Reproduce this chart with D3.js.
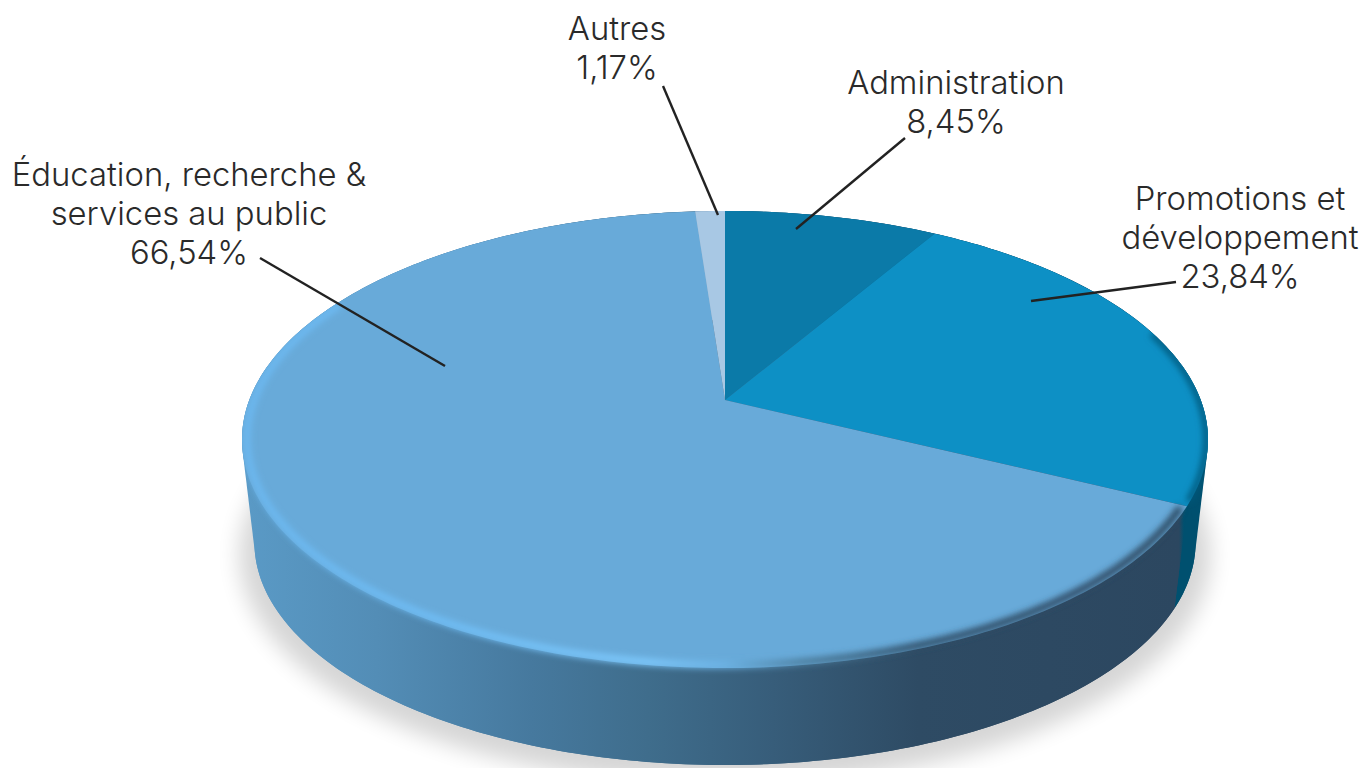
<!DOCTYPE html>
<html>
<head>
  <meta charset="UTF-8">
  <style>
    html, body { margin: 0; background: #fff; overflow: hidden; }
    svg { display: block; }
    text { font-family: "Inter", sans-serif; font-weight: 300; font-size: 32.8px; fill: #2a2a2a; }
  </style>
</head>
<body>
<script src="https://d3js.org/d3.v7.min.js"></script>
<script>
var categories = ["Administration", "Promotions et développement", "Éducation, recherche & services au public", "Autres"];
var shares = [8.45, 23.84, 66.54, 1.17];
var shareLabels = ["8,45%", "23,84%", "66,54%", "1,17%"];
var topColors = ["#0b7aa8", "#0d90c5", "#68aad9", "#a8c8e4"];
var wallColors = ["#0b5f82", "#00506f", "url(#wallGrad)", "#8aa8c4"];

var labelLines = [
  ["Administration", "8,45%"],
  ["Promotions et", "développement", "23,84%"],
  ["Éducation, recherche &", "services au public", "66,54%"],
  ["Autres", "1,17%"]
];
var labelX = [956, 1240, 189, 617];
var labelY = [94, 210, 186, 40];
var leaders = [
  [[905, 138], [796, 229]],
  [[1176, 282], [1031, 301]],
  [[260, 258], [445, 366]],
  [[663, 86], [718, 215]]
];

var width = 1365, height = 768;

// perspective disc: apex of the pie is not the centre of the ellipse
var cx = 725, cy = 400, Rx = 475.7, Ry = 221.7, k = 0.173;
var wallDrop = 105, wallScale = 0.975;

function project(angle, r, drop) {
  var u = r * Math.sin(angle), v = -r * Math.cos(angle);
  var w = 1 - k * v;
  return [cx + Rx * u / w, cy + drop + Ry * v / w];
}
function rim(a0, a1, r, drop) {
  var n = Math.max(2, Math.ceil((a1 - a0) * 60));
  return d3.range(n + 1).map(function(i) {
    return project(a0 + (a1 - a0) * i / n, r, drop);
  });
}

var line = d3.line();
var pie = d3.pie().sort(null);
var arcs = pie(shares);

var svg = d3.select("body").append("svg").attr("width", width).attr("height", height);
var defs = svg.append("defs");

function addGradient(id, stops) {
  var g = defs.append("linearGradient").attr("id", id)
    .attr("gradientUnits", "userSpaceOnUse")
    .attr("x1", 242).attr("x2", 1208).attr("y1", 0).attr("y2", 0);
  stops.forEach(function(s) {
    g.append("stop").attr("offset", s[0]).attr("stop-color", s[1]);
  });
}
addGradient("wallGrad", [[0, "#5a9ac6"], [0.14, "#538db6"], [0.3, "#46799e"], [0.42, "#3f6d8c"], [0.55, "#375d7a"], [0.7, "#2e4b64"], [0.97, "#2c4760"], [0.975, "#00506f"], [1, "#00506f"]]);
addGradient("rimGrad", [[0, "#6cb8f0"], [0.2, "#6fbdf5"], [0.42, "#7dc8fb"], [0.5, "#6cb2e4"], [0.58, "#4d7f9f"], [0.7, "#2f4d66"], [1, "#2c4760"]]);

defs.append("filter").attr("id", "soft").attr("x", "-20%").attr("y", "-20%").attr("width", "140%").attr("height", "140%")
  .append("feGaussianBlur").attr("stdDeviation", 3);
defs.append("filter").attr("id", "shadow").attr("x", "-20%").attr("y", "-20%").attr("width", "140%").attr("height", "140%")
  .append("feGaussianBlur").attr("stdDeviation", 11);

var full = rim(0, 2 * Math.PI, 1, 0);
var bottom = rim(0, 2 * Math.PI, wallScale, wallDrop);
var hull = d3.polygonHull(full.concat(bottom));

// silhouette: both discs plus what is between them
defs.append("clipPath").attr("id", "body")
  .selectAll("path").data([full, bottom, hull])
  .enter().append("path").attr("d", function(d) { return line(d) + "Z"; });

// ground shadow
svg.append("path")
  .attr("d", line(rim(0, 2 * Math.PI, 1.005, wallDrop + 10)) + "Z")
  .attr("fill", "#000").attr("opacity", 0.16).attr("filter", "url(#shadow)");

// side walls, back to front
var walls = svg.append("g");
walls.append("path").attr("d", line(hull) + "Z").attr("fill", "url(#wallGrad)");
arcs.forEach(function(d, i) {
  var pts = rim(d.startAngle, d.endAngle, 1, 0).concat(rim(d.startAngle, d.endAngle, wallScale, wallDrop).reverse());
  walls.append("path").attr("d", line(pts) + "Z").attr("fill", wallColors[i]);
});

// top faces
svg.append("g").selectAll("path").data(arcs).enter().append("path")
  .attr("d", function(d) {
    return line([[cx, cy]].concat(rim(d.startAngle, d.endAngle, 1, 0))) + "Z";
  })
  .attr("fill", function(d, i) { return topColors[i]; });

// bevel along the rim
var bevel = svg.append("g").attr("clip-path", "url(#body)");
bevel.append("path")
  .attr("d", line(rim(arcs[0].startAngle + 1.25, arcs[1].endAngle - 0.02, 0.997, 0)))
  .attr("fill", "none").attr("stroke", "#03587c").attr("stroke-width", 6).attr("filter", "url(#soft)");
bevel.append("path")
  .attr("d", line(rim(arcs[2].startAngle + 0.01, 5.2, 0.99, 0)))
  .attr("fill", "none").attr("stroke", "url(#rimGrad)").attr("stroke-width", 7).attr("filter", "url(#soft)");

// leader lines
svg.append("g").selectAll("line").data(leaders).enter().append("line")
  .attr("x1", function(d) { return d[0][0]; }).attr("y1", function(d) { return d[0][1]; })
  .attr("x2", function(d) { return d[1][0]; }).attr("y2", function(d) { return d[1][1]; })
  .attr("stroke", "#222").attr("stroke-width", 2.4);

// labels
labelLines.forEach(function(lines, i) {
  var t = svg.append("text").attr("text-anchor", "middle");
  lines.forEach(function(s, j) {
    t.append("tspan").attr("x", labelX[i]).attr("y", labelY[i] + j * 39).text(s);
  });
});
</script>
</body>
</html>
